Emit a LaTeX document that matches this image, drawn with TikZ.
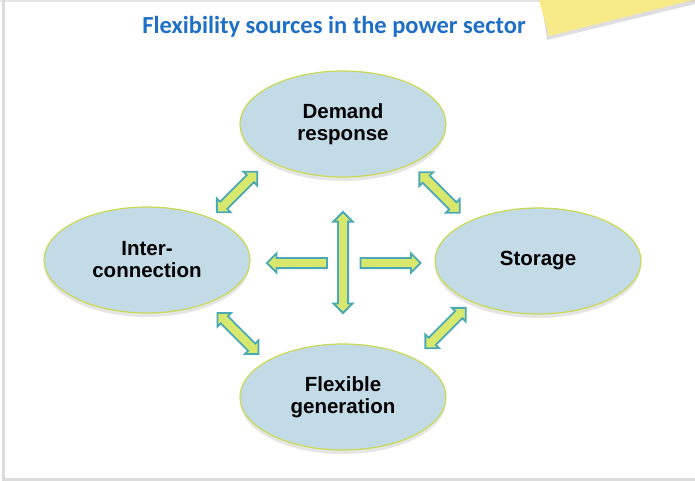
\documentclass[tikz,border=0pt]{standalone}
\usepackage{fontspec}
\setmainfont{Liberation Sans}
\newfontfamily\titlefont{Carlito}
\usetikzlibrary{shapes.geometric,shapes.arrows,shadows}
\definecolor{ellfill}{HTML}{C3DAE7}
\definecolor{ellline}{HTML}{C9DB55}
\definecolor{arrfill}{HTML}{D8E86C}
\definecolor{arrline}{HTML}{4BA9B5}
\definecolor{titleblue}{HTML}{1F6FC6}
\definecolor{notefill}{HTML}{F7EA88}
\begin{document}
\begin{tikzpicture}[x=1pt,y=-1pt,
  oval/.style={ellipse, draw=ellline, line width=1.2pt, fill=ellfill,
    minimum width=206pt, minimum height=106pt, inner sep=0pt, align=center,
    font=\fontsize{20.5}{22}\selectfont\bfseries,
    drop shadow={shadow xshift=0pt, shadow yshift=-4pt, opacity=.10, fill=black}},
  darr/.style={double arrow, draw=arrline, line width=1.8pt, fill=arrfill,
    inner sep=4.2pt, double arrow head extend=4.5pt, minimum height=#1},
  sarr/.style={single arrow, draw=arrline, line width=1.8pt, fill=arrfill,
    inner sep=4.2pt, single arrow head extend=4.5pt, minimum height=#1}
]
\useasboundingbox (0,0) rectangle (695,481);
\fill[white] (0,0) rectangle (695,481);
% frame
\draw[black!10, line width=1.5pt] (0,1) -- (695,1);
\draw[black!14, line width=3pt] (3,0) -- (3,479.5) -- (695,479.5);
% sticky note
\fill[black!25, opacity=.5] (541,0) -- (547,40) -- (695,4) -- (695,0) -- cycle;
\fill[notefill] (539,0) -- (549,36) -- (693,0) -- cycle;
% title
\node[font=\titlefont\fontsize{24.5}{28}\selectfont\bfseries, text=titleblue] (title) at (334,27) {Flexibility sources in the power sector};
% ellipses
\node[oval] (dr) at (343,124) {Demand\\response};
\node[oval] (ic) at (147,260) {Inter-\\connection};
\node[oval] (st) at (538,261) {Storage};
\node[oval] (fg) at (343,397) {Flexible\\generation};
% arrows
\node[darr=57pt, rotate=45] (a1) at (237,192) {};
\node[darr=57pt, rotate=-45] (a2) at (439.5,192.5) {};
\node[darr=58pt, rotate=-45] (a3) at (238,333.5) {};
\node[darr=57pt, rotate=45] (a4) at (445.5,328) {};
\node[darr=101pt, rotate=90] (a5) at (343,262.5) {};
\node[sarr=60pt, rotate=180] (a6) at (299.5,263) {};
\node[sarr=60pt] (a7) at (388,263) {};
\end{tikzpicture}
\end{document}
